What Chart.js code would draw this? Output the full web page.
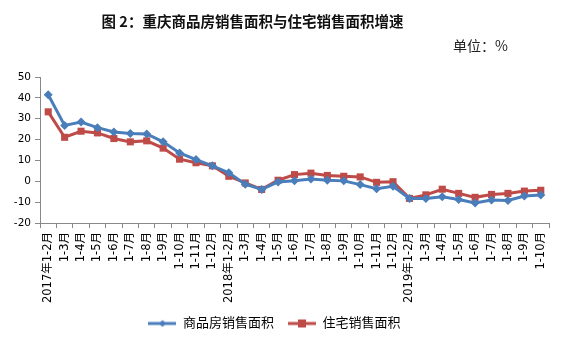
<!DOCTYPE html>
<html>
<head>
<meta charset="utf-8">
<script src="https://cdn.jsdelivr.net/npm/chart.js@4/dist/chart.umd.min.js"></script>
<style>
  html, body { margin: 0; padding: 0; background: #fff; }
  #wrap { position: relative; width: 575px; height: 342px; }
  #chart { position: absolute; left: 0; top: 0; }
  .title {
    position: absolute; left: 0; top: 10px; width: 505px; text-align: center;
    font: bold 14.5px "Noto Sans CJK SC", sans-serif; color: #111;
  }
  .unit {
    position: absolute; left: 453px; top: 35px;
    font: 14px "Noto Sans CJK SC", sans-serif; color: #222;
  }
</style>
</head>
<body>
<div id="wrap">
  <canvas id="chart" width="575" height="342"></canvas>
  <div class="title">图 2：重庆商品房销售面积与住宅销售面积增速</div>
  <div class="unit">单位：%</div>
</div>
<script>
// 月份标签（累计）
const months = [
  '2017年1-2月', '1-3月', '1-4月', '1-5月', '1-6月', '1-7月', '1-8月', '1-9月', '1-10月', '1-11月', '1-12月',
  '2018年1-2月', '1-3月', '1-4月', '1-5月', '1-6月', '1-7月', '1-8月', '1-9月', '1-10月', '1-11月', '1-12月',
  '2019年1-2月', '1-3月', '1-4月', '1-5月', '1-6月', '1-7月', '1-8月', '1-9月', '1-10月'
];

// 商品房销售面积增速 %
const salesArea = [
  41.5, 26.8, 28.4, 25.7, 23.6, 22.9, 22.7, 18.9, 13.6, 10.4, 7.4,
  4.1, -1.4, -3.9, -0.3, 0.3, 1.1, 0.5, 0.2, -1.6, -3.6, -2.4,
  -8.2, -8.2, -7.4, -8.7, -10.4, -9.0, -9.2, -7.1, -6.6
];

// 住宅销售面积增速 %
const housingArea = [
  33.3, 21.1, 24.0, 23.2, 20.5, 18.9, 19.4, 15.9, 10.6, 8.9, 7.4,
  2.4, -0.8, -3.9, 0.5, 3.2, 3.9, 2.8, 2.4, 2.1, -0.5, -0.2,
  -8.2, -6.5, -3.8, -5.8, -7.7, -6.3, -5.8, -4.7, -4.3
];

const yTicks = [50, 40, 30, 20, 10, 0, -10, -20];

const BLUE = '#4a7ebb';
const RED = '#be4b48';
const FONT = '"DejaVu Sans", "Noto Sans CJK SC", sans-serif';

// legend icon: short line with the marker in the middle
function legendIcon(color, style, size) {
  const c = document.createElement('canvas');
  c.width = 28;
  c.height = 12;
  const g = c.getContext('2d');
  g.strokeStyle = color;
  g.lineWidth = 3;
  g.beginPath();
  g.moveTo(0, 6);
  g.lineTo(28, 6);
  g.stroke();
  g.fillStyle = color;
  g.beginPath();
  if (style === 'rectRot') {
    g.moveTo(14, 6 - size);
    g.lineTo(14 + size, 6);
    g.lineTo(14, 6 + size);
    g.lineTo(14 - size, 6);
  } else {
    g.rect(14 - size, 6 - size, size * 2, size * 2);
  }
  g.closePath();
  g.fill();
  return c;
}

const ctx = document.getElementById('chart').getContext('2d');

new Chart(ctx, {
  type: 'line',
  data: {
    labels: months,
    datasets: [
      {
        label: '商品房销售面积',
        data: salesArea,
        borderColor: BLUE,
        backgroundColor: BLUE,
        borderWidth: 3,
        pointStyle: 'rectRot',
        pointRadius: 4.5,
        pointBorderWidth: 0,
        fill: false,
        tension: 0,
        icon: legendIcon(BLUE, 'rectRot', 3.5),
      },
      {
        label: '住宅销售面积',
        data: housingArea,
        borderColor: RED,
        backgroundColor: RED,
        borderWidth: 3,
        pointStyle: 'rect',
        pointRadius: 5,
        pointBorderWidth: 0,
        fill: false,
        tension: 0,
        icon: legendIcon(RED, 'rect', 4),
      },
    ],
  },
  options: {
    responsive: false,
    animation: false,
    layout: { padding: { top: 77, right: 26, bottom: 2, left: 0 } },
    plugins: {
      tooltip: { enabled: false },
      legend: {
        position: 'bottom',
        labels: {
          usePointStyle: true,
          pointStyleWidth: 28,
          padding: 14,
          color: '#000',
          font: { family: FONT, size: 13 },
          generateLabels: (chart) =>
            chart.data.datasets.map((ds, i) => ({
              text: ds.label,
              pointStyle: ds.icon,
              fillStyle: ds.borderColor,
              strokeStyle: ds.borderColor,
              lineWidth: 0,
              hidden: false,
              datasetIndex: i,
              fontColor: '#000',
            })),
        },
      },
    },
    scales: {
      x: {
        offset: true,
        grid: {
          offset: true,
          drawOnChartArea: false,
          drawTicks: true,
          tickLength: 5,
          color: '#888',
        },
        border: { color: '#888' },
        ticks: {
          autoSkip: false,
          maxRotation: 90,
          minRotation: 90,
          padding: 4,
          color: '#000',
          font: { family: FONT, size: 11.5 },
        },
        afterFit: (scale) => { scale.height = 80; },
      },
      y: {
        min: -20,
        max: 50,
        afterBuildTicks: (scale) => {
          scale.ticks = yTicks.map((v) => ({ value: v }));
        },
        grid: {
          drawOnChartArea: false,
          drawTicks: true,
          tickLength: 5,
          color: '#888',
        },
        border: { color: '#888' },
        ticks: {
          padding: 4,
          color: '#000',
          font: { family: FONT, size: 10.5 },
        },
        afterFit: (scale) => { scale.width = 40; },
      },
    },
  },
});
</script>
</body>
</html>
